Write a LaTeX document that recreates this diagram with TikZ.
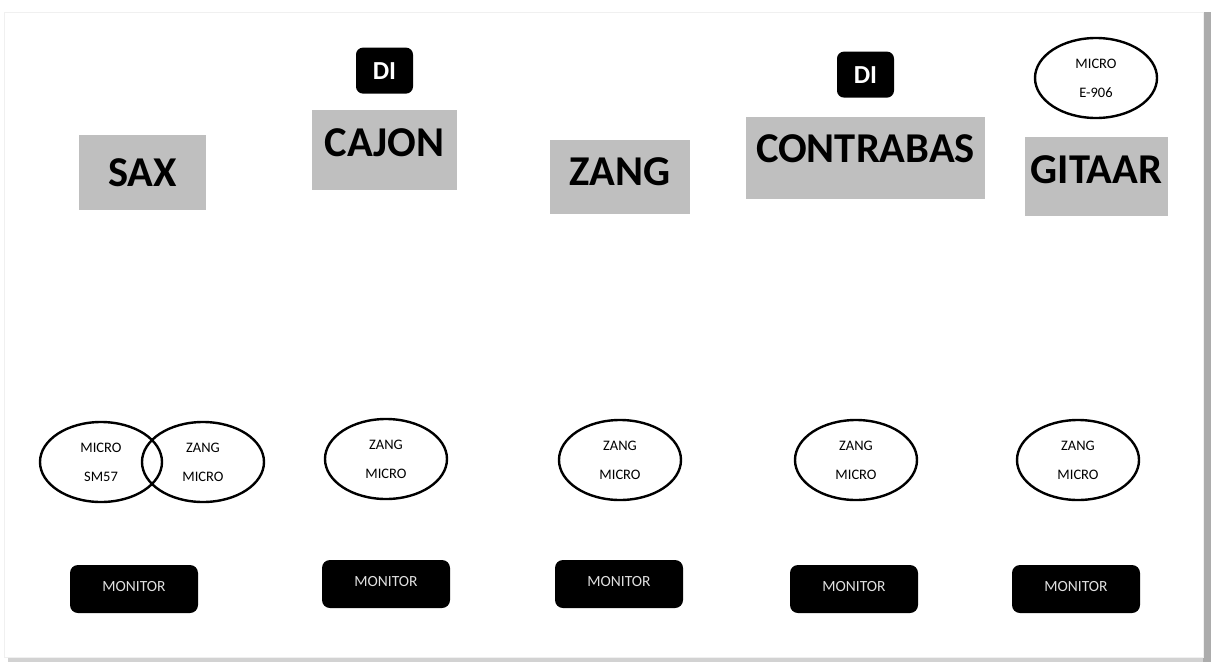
\documentclass[tikz,border=0pt]{standalone}
\usepackage{fontspec}
\setmainfont{Carlito}
\usetikzlibrary{shapes.geometric,positioning}
\tikzset{%
      instr/.style={fill=gray!50, inner sep=0pt, font=\bfseries\fontsize{42.5}{44}\selectfont},
      dibox/.style={fill=black, text=white, rounded corners=7pt, minimum width=57pt, minimum height=46pt, inner sep=0pt, font=\bfseries\fontsize{26}{28}\selectfont},
      microel/.style={draw, ellipse, line width=2.4pt, minimum width=122pt, minimum height=80pt, inner sep=0pt, align=center, font=\fontsize{14.5}{29}\selectfont},
      monitor/.style={fill=black, text=white!88!black, rounded corners=8pt, minimum width=128pt, minimum height=48pt, inner sep=0pt, font=\fontsize{15.5}{17}\selectfont},
    }
\newcommand{\micro}[4]{node (#1) [microel] at (#2) {#3\\#4}}
\newcommand{\monitor}[2]{node (#1) [monitor] at (#2) {\raisebox{5pt}{MONITOR}}}

\begin{document}
\begin{tikzpicture}[x=1pt, y=-1pt]

      % Page with shadow
      \useasboundingbox (0,0) rectangle (1216,664);
      \fill[gray!35] (8,656) rectangle (1211,662);
      \fill[gray!65] (1203,12) rectangle (1211,662);
      \fill[white, draw=gray!12] (4,12) rectangle (1203,657);

      % Draw instruments
      \node (sax) [instr, minimum width=127pt, minimum height=75pt] at (142.5,172.5) {SAX};
      \node (cajon) [instr, minimum width=145pt, minimum height=80pt, text depth=14pt] at (384.5,150) {CAJON};
      \node (zang) [instr, minimum width=140pt, minimum height=74pt, text depth=10pt] at (620,177) {ZANG};
      \node (contrabas) [instr, minimum width=239pt, minimum height=82pt, text depth=18pt] at (865.5,158) {CONTRABAS};
      \node (gitaar) [instr, minimum width=143pt, minimum height=79pt, text depth=14pt] at (1096.5,176.5) {GITAAR};

      % DI boxes and guitar micro
      \node (di1) [dibox, above=16pt of cajon] {DI};
      \node (di2) [dibox, above=19pt of contrabas] {DI};
      \path \micro{microgit}{1096,78}{MICRO}{E-906};

      % Draw micros
      \path \micro{microsax}{101,462}{MICRO}{SM57};
      \path \micro{zangsax}{203,462}{ZANG}{MICRO};
      \path \micro{zangcajon}{386,459}{ZANG}{MICRO};
      \path \micro{zangzang}{620,460}{ZANG}{MICRO};
      \path \micro{zangcontra}{856,460}{ZANG}{MICRO};
      \path \micro{zanggit}{1078,460}{ZANG}{MICRO};

      % Draw monitors
      \path \monitor{mon1}{134,589};
      \path \monitor{mon2}{386,584};
      \path \monitor{mon3}{619,584};
      \path \monitor{mon4}{854,589};
      \path \monitor{mon5}{1076,589};

\end{tikzpicture}
\end{document}
